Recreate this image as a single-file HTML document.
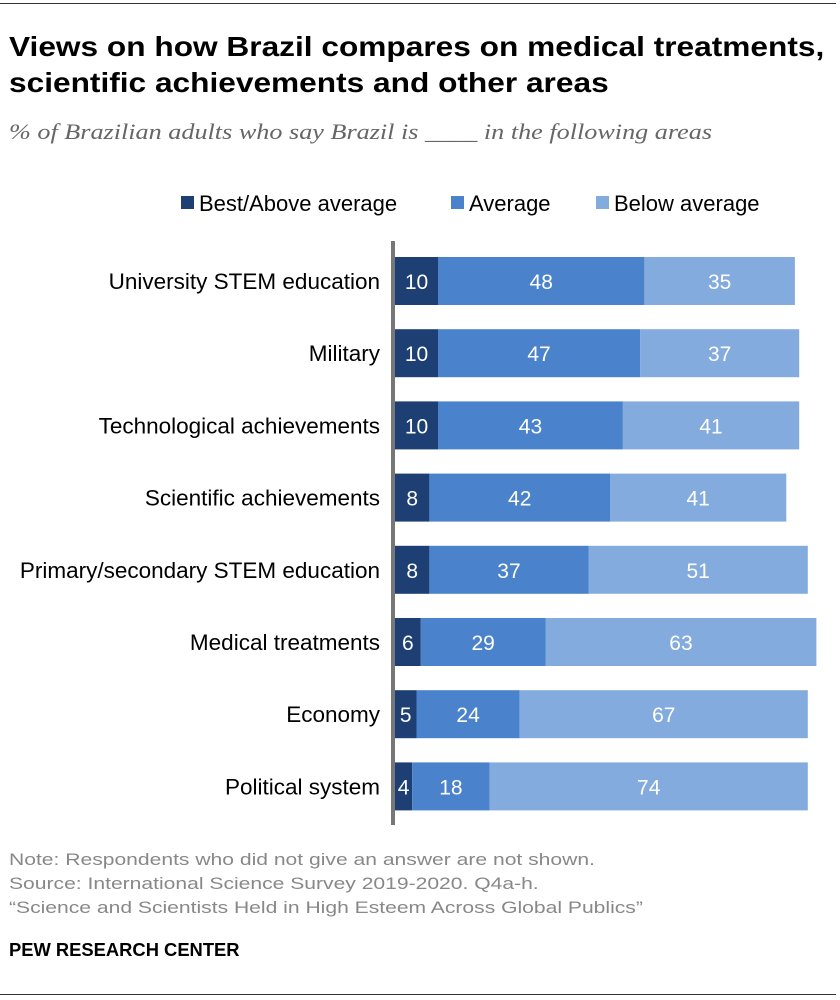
<!DOCTYPE html>
<html><head><meta charset="utf-8"><style>
body{margin:0;background:#fff;font-family:"Liberation Sans",sans-serif;}
#wrap{position:relative;width:840px;height:1000px;overflow:hidden;}
.t{position:absolute;white-space:nowrap;transform-origin:0 0;}
</style></head><body>
<div id="wrap">
<div class="t" style="left:0;top:3px;width:836px;height:1px;background:#333"></div>
<div class="t" style="left:9px;top:29px;font-size:28px;font-weight:bold;color:#000;line-height:36px;transform:scaleX(1.13)">Views on how Brazil compares on medical treatments,<br>scientific achievements and other areas</div>
<div class="t" style="left:9px;top:119px;font-size:22px;font-style:italic;color:#666;font-family:'Liberation Serif',serif;transform:scaleX(1.19)">% of Brazilian adults who say Brazil is ____ in the following areas</div>
<svg id="chart" width="840" height="840" style="position:absolute;left:0;top:0"></svg>
<div class="t" style="left:9px;top:848px;font-size:17px;color:#888;line-height:24px;transform:scaleX(1.24)">Note: Respondents who did not give an answer are not shown.<br>Source: International Science Survey 2019-2020. Q4a-h.<br>“Science and Scientists Held in High Esteem Across Global Publics”</div>
<div class="t" style="left:9px;top:940px;font-size:18px;font-weight:bold;color:#000;transform:scaleX(1.02)">PEW RESEARCH CENTER</div>
<div class="t" style="left:0;top:994px;width:836px;height:1px;background:#333"></div>
</div>
<script>
const categories=["University STEM education","Military","Technological achievements","Scientific achievements","Primary/secondary STEM education","Medical treatments","Economy","Political system"];
const best=[10,10,10,8,8,6,5,4];
const average=[48,47,43,42,37,29,24,18];
const below=[35,37,41,41,51,63,67,74];
const seriesNames=["Best/Above average","Average","Below average"];
const colors=["#1d3f73","#4a83cc","#84abde"];
const NS="http://www.w3.org/2000/svg";
const svg=document.getElementById('chart');
const x0=395,unit=4.3,y0=257,step=72.2,bh=48;
const xs=v=>x0+v*unit;
function mk(tag,attrs,txt){const e=document.createElementNS(NS,tag);for(const k in attrs)e.setAttribute(k,attrs[k]);if(txt!==undefined)e.textContent=txt;svg.appendChild(e);return e;}
const legX=[181,451,596];
seriesNames.forEach((n,i)=>{
  const r=mk('rect',{x:legX[i],y:196,width:13,height:13,fill:colors[i]});
  
  
  const t=mk('text',{x:legX[i]+18,y:211,'font-size':22,fill:'#000'},n);
  
  
});
const series=[best,average,below];
categories.forEach((c,i)=>{
  const y=y0+i*step;
  const lab=mk('text',{x:380,y:y+bh/2+8,'font-size':22.5,'text-anchor':'end',fill:'#000'},c);
  
  
  let acc=0;
  series.forEach((s,j)=>{
    const v=s[i];
    const r=mk('rect',{x:xs(acc),y:y,width:v*unit,height:bh,fill:colors[j]});
    
    
    const t=mk('text',{x:xs(acc+v/2),y:y+bh/2+8,'font-size':21,'text-anchor':'middle',fill:'#fff'},String(v));
    
    
    acc+=v;
  });
});
const ax=mk('rect',{x:391,y:241,width:4,height:584,fill:'#777'});


</script>
</body></html>
